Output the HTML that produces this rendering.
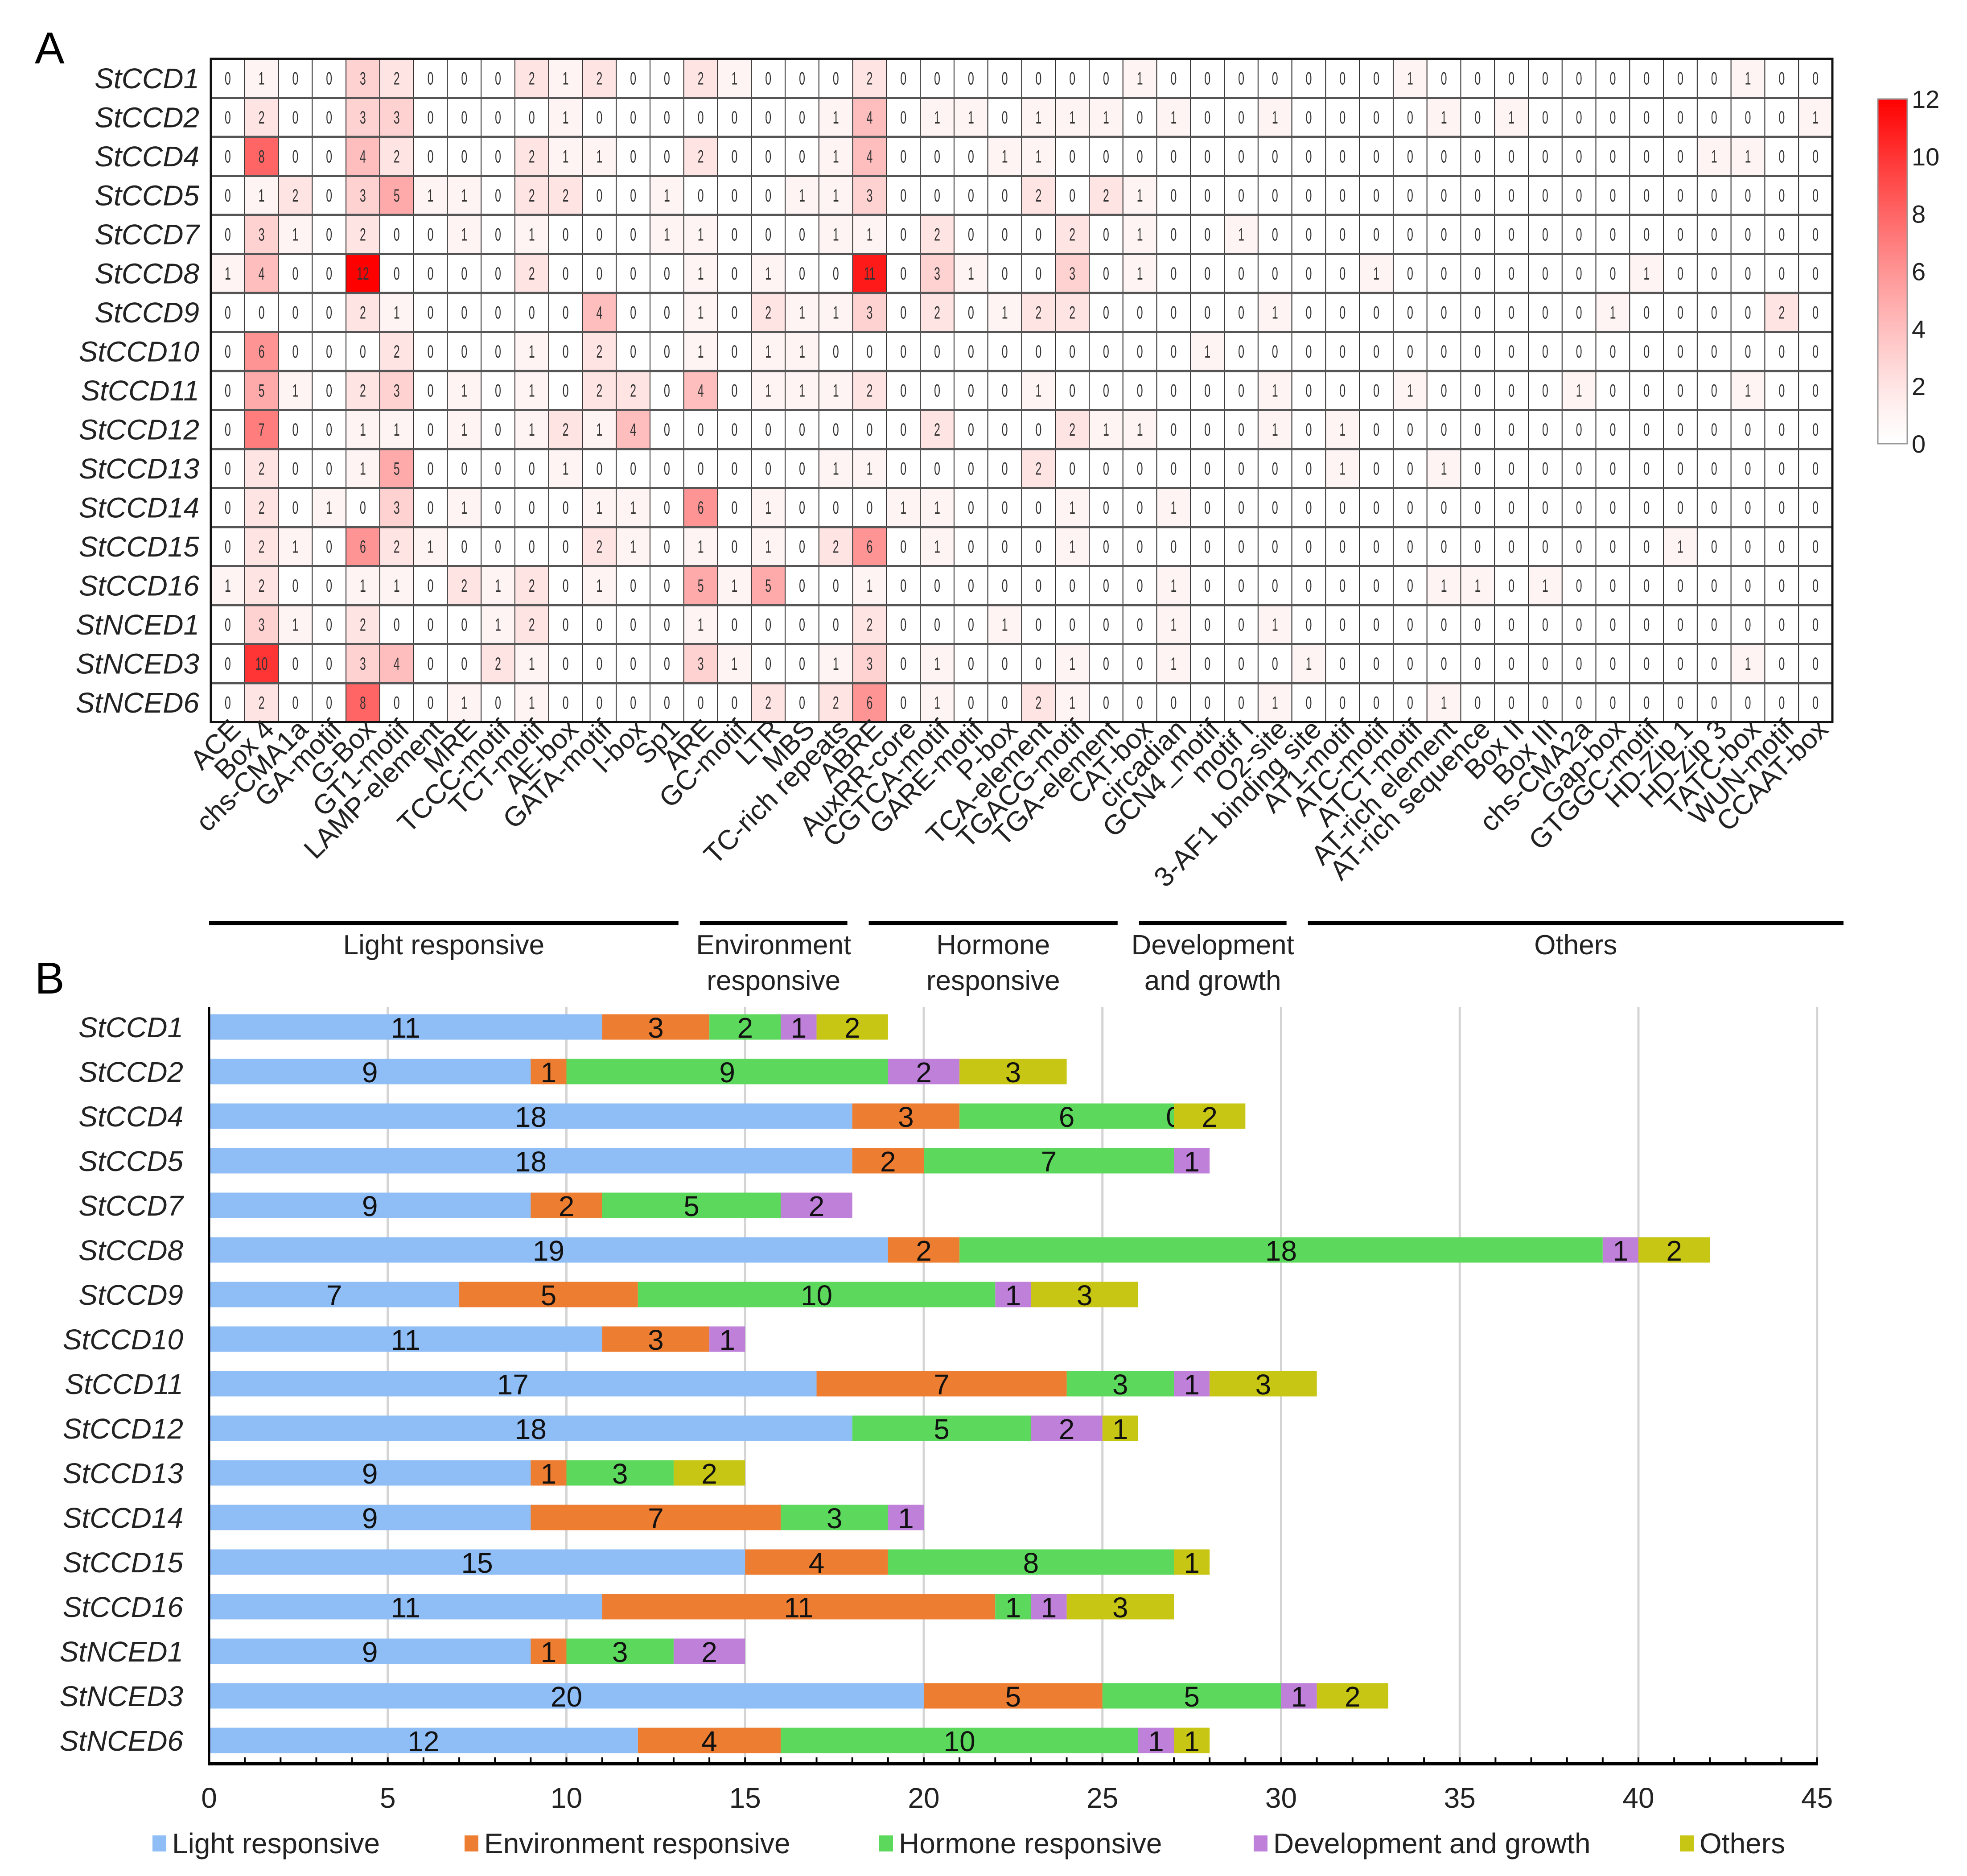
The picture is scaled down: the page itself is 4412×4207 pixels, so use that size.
<!DOCTYPE html>
<html><head><meta charset="utf-8"><style>
html,body{margin:0;padding:0;background:#fff}
svg{display:block}
text{font-family:"Liberation Sans",sans-serif}
</style></head><body>
<svg id="fig" xmlns="http://www.w3.org/2000/svg" width="4412" height="4207" viewBox="0 0 4412 4207">
<text x="78" y="142" font-size="100">A</text>
<text x="78" y="2228" font-size="100">B</text>
<g id="heat"></g>
<g id="cbar"></g>
<g id="groups"></g>
<g id="bars"></g>
</svg>
<script>
const genes=["StCCD1","StCCD2","StCCD4","StCCD5","StCCD7","StCCD8","StCCD9","StCCD10","StCCD11","StCCD12","StCCD13","StCCD14","StCCD15","StCCD16","StNCED1","StNCED3","StNCED6"];
const motifs=["ACE","Box 4","chs-CMA1a","GA-motif","G-Box","GT1-motif","LAMP-element","MRE","TCCC-motif","TCT-motif","AE-box","GATA-motif","I-box","Sp1","ARE","GC-motif","LTR","MBS","TC-rich repeats","ABRE","AuxRR-core","CGTCA-motif","GARE-motif","P-box","TCA-element","TGACG-motif","TGA-element","CAT-box","circadian","GCN4_motif","motif I","O2-site","3-AF1 binding site","AT1-motif","ATC-motif","ATCT-motif","AT-rich element","AT-rich sequence","Box II","Box III","chs-CMA2a","Gap-box","GTGGC-motif","HD-Zip 1","HD-Zip 3","TATC-box","WUN-motif","CCAAT-box"];
const hmCCD1=[0,1,0,0,3,2,0,0,0,2,1,2,0,0,2,1,0,0,0,2,0,0,0,0, 0,0,0,1,0,0,0,0,0,0,0,1,0,0,0,0,0,0,0,0,0,1,0,0];
const hmCCD2=[0,2,0,0,3,3,0,0,0,0,1,0,0,0,0,0,0,0,1,4,0,1,1,0, 1,1,1,0,1,0,0,1,0,0,0,0,1,0,1,0,0,0,0,0,0,0,0,1];
const hmCCD4=[0,8,0,0,4,2,0,0,0,2,1,1,0,0,2,0,0,0,1,4,0,0,0,1, 1,0,0,0,0,0,0,0,0,0,0,0,0,0,0,0,0,0,0,0,1,1,0,0];
const hmCCD5=[0,1,2,0,3,5,1,1,0,2,2,0,0,1,0,0,0,1,1,3,0,0,0,0, 2,0,2,1,0,0,0,0,0,0,0,0,0,0,0,0,0,0,0,0,0,0,0,0];
const hmCCD7=[0,3,1,0,2,0,0,1,0,1,0,0,0,1,1,0,0,0,1,1,0,2,0,0, 0,2,0,1,0,0,1,0,0,0,0,0,0,0,0,0,0,0,0,0,0,0,0,0];
const hmCCD8=[1,4,0,0,12,0,0,0,0,2,0,0,0,0,1,0,1,0,0,11,0,3,1,0, 0,3,0,1,0,0,0,0,0,0,1,0,0,0,0,0,0,0,1,0,0,0,0,0];
const hmCCD9=[0,0,0,0,2,1,0,0,0,0,0,4,0,0,1,0,2,1,1,3,0,2,0,1, 2,2,0,0,0,0,0,1,0,0,0,0,0,0,0,0,0,1,0,0,0,0,2,0];
const hmCCD10=[0,6,0,0,0,2,0,0,0,1,0,2,0,0,1,0,1,1,0,0,0,0,0,0, 0,0,0,0,0,1,0,0,0,0,0,0,0,0,0,0,0,0,0,0,0,0,0,0];
const hmCCD11=[0,5,1,0,2,3,0,1,0,1,0,2,2,0,4,0,1,1,1,2,0,0,0,0, 1,0,0,0,0,0,0,1,0,0,0,1,0,0,0,0,1,0,0,0,0,1,0,0];
const hmCCD12=[0,7,0,0,1,1,0,1,0,1,2,1,4,0,0,0,0,0,0,0,0,2,0,0, 0,2,1,1,0,0,0,1,0,1,0,0,0,0,0,0,0,0,0,0,0,0,0,0];
const hmCCD13=[0,2,0,0,1,5,0,0,0,0,1,0,0,0,0,0,0,0,1,1,0,0,0,0, 2,0,0,0,0,0,0,0,0,1,0,0,1,0,0,0,0,0,0,0,0,0,0,0];
const hmCCD14=[0,2,0,1,0,3,0,1,0,0,0,1,1,0,6,0,1,0,0,0,1,1,0,0, 0,1,0,0,1,0,0,0,0,0,0,0,0,0,0,0,0,0,0,0,0,0,0,0];
const hmCCD15=[0,2,1,0,6,2,1,0,0,0,0,2,1,0,1,0,1,0,2,6,0,1,0,0, 0,1,0,0,0,0,0,0,0,0,0,0,0,0,0,0,0,0,0,1,0,0,0,0];
const hmCCD16=[1,2,0,0,1,1,0,2,1,2,0,1,0,0,5,1,5,0,0,1,0,0,0,0, 0,0,0,0,1,0,0,0,0,0,0,0,1,1,0,1,0,0,0,0,0,0,0,0];
const hmNCED1=[0,3,1,0,2,0,0,0,1,2,0,0,0,0,1,0,0,0,0,2,0,0,0,1, 0,0,0,0,1,0,0,1,0,0,0,0,0,0,0,0,0,0,0,0,0,0,0,0];
const hmNCED3=[0,10,0,0,3,4,0,0,2,1,0,0,0,0,3,1,0,0,1,3,0,1,0,0, 0,1,0,0,1,0,0,0,1,0,0,0,0,0,0,0,0,0,0,0,0,1,0,0];
const hmNCED6=[0,2,0,0,8,0,0,1,0,1,0,0,0,0,0,0,2,0,2,6,0,1,0,0, 2,1,0,0,0,0,0,1,0,0,0,0,1,0,0,0,0,0,0,0,0,0,0,0];
const heatRows=[hmCCD1,hmCCD2,hmCCD4,hmCCD5,hmCCD7,hmCCD8,hmCCD9,hmCCD10,hmCCD11,hmCCD12,hmCCD13,hmCCD14,hmCCD15,hmCCD16,hmNCED1,hmNCED3,hmNCED6];
const cbarTicks=[0,2,4,6,8,10,12];
const groupNames=[["Light responsive"],["Environment","responsive"],["Hormone","responsive"],["Development","and growth"],["Others"]];
const groupSizes=[14,5,8,5,16];
const categories=["Light responsive","Environment responsive","Hormone responsive","Development and growth","Others"];
const lightVals=[11,9,18,18,9,19,7,11,17,18,9,9,15,11,9,20,12];
const envVals=[3,1,3,2,2,2,5,3,7,0,1,7,4,11,1,5,4];
const hormVals=[2,9,6,7,5,18,10,0,3,5,3,3,8,1,3,5,10];
const devVals=[1,2,0,1,2,1,1,1,1,2,0,1,0,1,2,1,1];
const otherVals=[2,3,2,0,0,2,3,0,3,1,2,0,1,3,0,2,1];
const shownZeroRows=[2];
const shownZeroSeries=[3];
const xTicks=[0,5,10,15,20,25,30,35,40,45];
const colors=["#8fbdf6","#ed7d31","#5cd95c","#bf80d9","#c8c614"];

const NS="http://www.w3.org/2000/svg";
function mk(tag,attrs,parent,txt){const e=document.createElementNS(NS,tag);for(const k in attrs)e.setAttribute(k,attrs[k]);if(txt!==undefined)e.textContent=txt;parent.appendChild(e);return e;}

const H=document.getElementById('heat');
const hx0=473,hx1=4110,hy0=132,rowH=87.5,nC=motifs.length,colW=(hx1-hx0)/nC;
const cx=i=>hx0+i*colW, ry=r=>hy0+r*rowH;
function heatColor(v){const t=Math.pow(v/12,1.25);const g=Math.round(255*(1-t));return `rgb(255,${g},${g})`;}
heatRows.forEach((row,r)=>{
  const lab=mk('text',{x:447,y:ry(r)+rowH/2+22,'font-size':64,'font-style':'italic','text-anchor':'end',fill:'#222'},H,genes[r]);
  
  
  row.forEach((v,c)=>{
    const rc=mk('rect',{x:cx(c),y:ry(r),width:colW,height:rowH,fill:heatColor(v),stroke:'#333','stroke-width':2},H);
    
    
    const mx=cx(c)+colW/2;
    const t=mk('text',{x:mx,y:ry(r)+rowH/2+14,'font-size':40,'text-anchor':'middle',fill:'#333',transform:`translate(${mx},0) scale(0.62,1) translate(${-mx},0)`},H,String(v));
    
    
  });
  if(r>0){const ln=mk('line',{x1:hx0,x2:hx1,y1:ry(r),y2:ry(r),stroke:'#555','stroke-width':5},H);
    
    }
});
const bd=mk('rect',{x:hx0,y:hy0,width:hx1-hx0,height:rowH*heatRows.length,fill:'none',stroke:'#111','stroke-width':5},H);


motifs.forEach((m,c)=>{
  const x=cx(c)+colW/2+32,y=hy0+rowH*heatRows.length+20;
  const t=mk('text',{x:x,y:y,'font-size':62,'text-anchor':'end',fill:'#222',transform:`rotate(-45 ${x} ${y})`},H,m);
  
  
});

const C=document.getElementById('cbar');
const defs=mk('defs',{},C);
const lg=mk('linearGradient',{id:'cg',x1:0,y1:1,x2:0,y2:0},defs);
for(let i=0;i<=12;i++){mk('stop',{offset:(i/12),'stop-color':heatColor(i)},lg);}
const cb0=222,cb1=995;
const cbr=mk('rect',{x:4212,y:cb0,width:66,height:cb1-cb0,fill:'url(#cg)',stroke:'#999','stroke-width':3},C);


cbarTicks.forEach(v=>{
  const y=cb1-(v/12)*(cb1-cb0);
  const t=mk('text',{x:4288,y:y+20,'font-size':56,fill:'#222'},C,String(v));
  
  
});

const G=document.getElementById('groups');
let gStart=0;
groupSizes.forEach((n,i)=>{
  const x1=cx(gStart)-4+(i>0?40:0), x2=cx(gStart+n)-(i<groupSizes.length-1?12:-25);
  const ln=mk('line',{x1:x1,x2:x2,y1:2070,y2:2070,stroke:'#000','stroke-width':10},G);
  
  
  const mid=(x1+x2)/2;
  groupNames[i].forEach((s,k)=>{
    const t=mk('text',{x:mid,y:2140+k*80,'font-size':62,'text-anchor':'middle',fill:'#222'},G,s);
    
    
  });
  gStart+=n;
});

const B=document.getElementById('bars');
const bx0=469,unit=80.15,axisY=3955,topY=2258,barH=57,firstC=2303,step=100;
const xs=v=>bx0+v*unit, yc=i=>firstC+i*step;
xTicks.forEach(v=>{
  if(v>0){const gl=mk('line',{x1:xs(v),x2:xs(v),y1:topY,y2:axisY,stroke:'#d4d4d4','stroke-width':5},B);
    
    }
  const t=mk('text',{x:xs(v),y:4054,'font-size':64,'text-anchor':'middle',fill:'#222'},B,String(v));
  
  
});
const series=[lightVals,envVals,hormVals,devVals,otherVals];
genes.forEach((g,i)=>{
  const lab=mk('text',{x:411,y:yc(i)+23,'font-size':64,'font-style':'italic','text-anchor':'end',fill:'#222'},B,g);
  
  
  let acc=0;
  series.forEach((s,k)=>{
    const v=s[i];
    if(v>0){
      const r=mk('rect',{x:xs(acc),y:yc(i)-barH/2,width:v*unit,height:barH,fill:colors[k]},B);
      
      
    }
    const zeroShown=shownZeroRows.some((rr,j)=>rr===i&&shownZeroSeries[j]===k);
    if(v>0||zeroShown){
      const t=mk('text',{x:xs(acc+v/2),y:yc(i)+24,'font-size':64,'text-anchor':'middle',fill:'#111'},B,String(v));
      
      
    }
    acc+=v;
  });
});
for(let v=0;v<=45;v++){
  const tk=mk('line',{x1:xs(v),x2:xs(v),y1:axisY-14,y2:axisY,stroke:'#000','stroke-width':4},B);
  
  
}
const ax=mk('line',{x1:bx0-2,x2:xs(45)+2,y1:axisY,y2:axisY,stroke:'#000','stroke-width':8},B);


const ay=mk('line',{x1:bx0,x2:bx0,y1:topY,y2:axisY,stroke:'#000','stroke-width':5},B);


const legX=[342,1042,1972,2812,3768];
categories.forEach((c,k)=>{
  const sq=mk('rect',{x:legX[k],y:4116,width:31,height:36,fill:colors[k]},B);
  
  
  const t=mk('text',{x:legX[k]+44,y:4156,'font-size':64,fill:'#222'},B,c);
  
  
});
</script>
</body></html>
